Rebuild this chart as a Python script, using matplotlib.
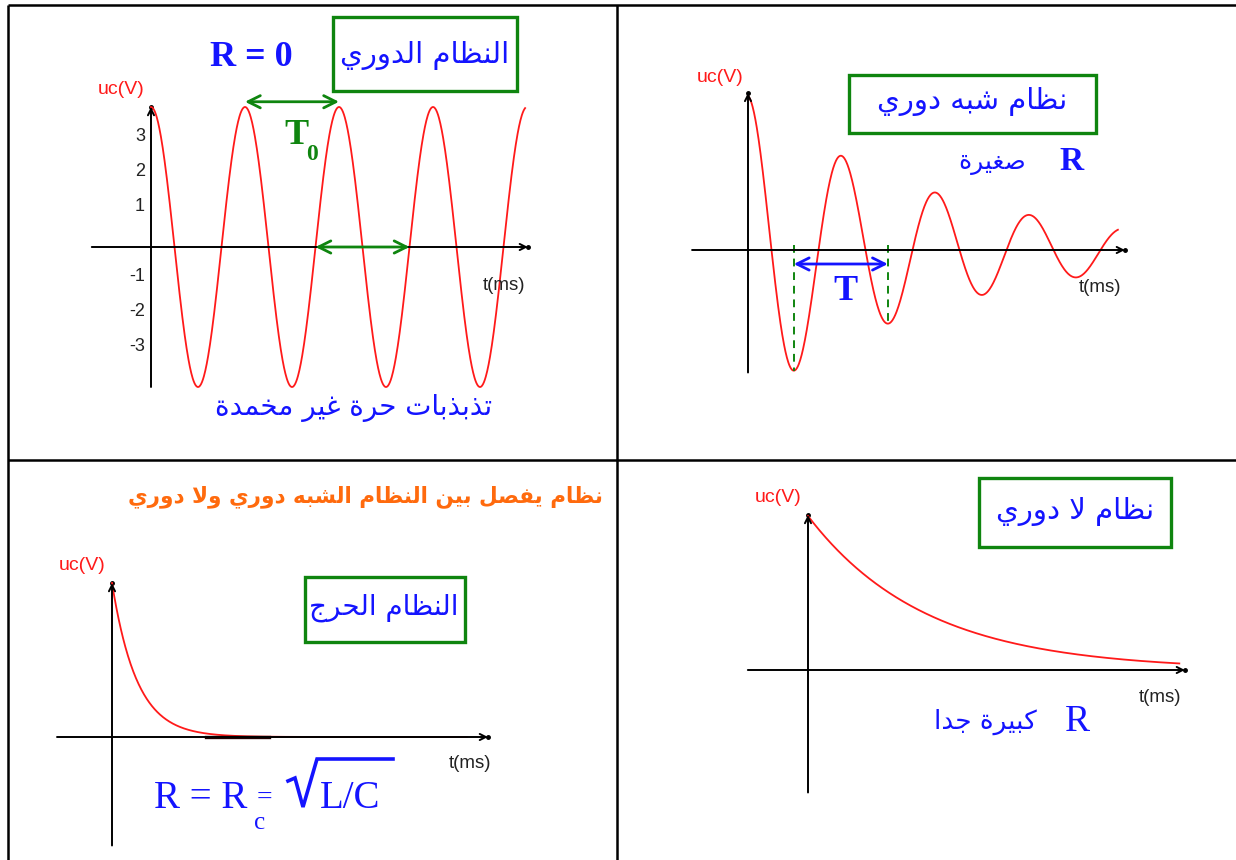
import matplotlib
matplotlib.use("Agg")

import  matplotlib.pyplot   as  plt
import  numpy   as  np


##############################################################
###------------------------data----------------------------###
##############################################################

T_END           =   8.0             # ms, last instant drawn
PX_PER_MS       =   47.0
PX_PER_V        =   35.0

# regime periodique (R = 0)
U0_PER          =   4.0
T0_PER          =   2.0
TICK_VALUES     =   [3, 2, 1, -1, -2, -3]

# regime pseudo periodique (R petite)
U0_PSEUDO       =   4.4
T_PSEUDO        =   2.0
TAU_PSEUDO      =   4.05

# regime critique
U0_CRIT         =   4.4
TAU_CRIT        =   0.53
T_END_CRIT      =   7.55
CRIT_DARK       =   (2.0, 3.35)

# regime aperiodique (R tres grande)
U0_APER         =   4.4
TAU_APER        =   2.5
T_END_APER      =   7.9

TITLES = {
    "per":      "النظام الدوري",
    "per_sub":  "تذبذبات حرة غير مخمدة",
    "pseudo":   "نظام شبه دوري",
    "pseudo_r": "صغيرة",
    "crit":     "النظام الحرج",
    "crit_top": "نظام يفصل بين النظام الشبه دوري ولا دوري",
    "aper":     "نظام لا دوري",
    "aper_r":   "كبيرة جدا",
}

W, H    =   1236, 860
RED     =   "#ff1a1a"
BLUE    =   "#1414ff"
GREEN   =   "#0f850f"
ORANGE  =   "#ff6a0d"
AR_FONT =   ["DejaVu Sans"]


##############################################################
###------------------arabic_shaping-----------------------###
##############################################################

# isolated, final, initial, medial
FORMS = {
    "ا": ("\ufe8d", "\ufe8e"),
    "ب": ("\ufe8f", "\ufe90", "\ufe91", "\ufe92"),
    "ة": ("\ufe93", "\ufe94"),
    "ت": ("\ufe95", "\ufe96", "\ufe97", "\ufe98"),
    "ج": ("\ufe9d", "\ufe9e", "\ufe9f", "\ufea0"),
    "ح": ("\ufea1", "\ufea2", "\ufea3", "\ufea4"),
    "خ": ("\ufea5", "\ufea6", "\ufea7", "\ufea8"),
    "د": ("\ufea9", "\ufeaa"),
    "ذ": ("\ufeab", "\ufeac"),
    "ر": ("\ufead", "\ufeae"),
    "ش": ("\ufeb5", "\ufeb6", "\ufeb7", "\ufeb8"),
    "ص": ("\ufeb9", "\ufeba", "\ufebb", "\ufebc"),
    "ظ": ("\ufec5", "\ufec6", "\ufec7", "\ufec8"),
    "غ": ("\ufecd", "\ufece", "\ufecf", "\ufed0"),
    "ف": ("\ufed1", "\ufed2", "\ufed3", "\ufed4"),
    "ك": ("\ufed9", "\ufeda", "\ufedb", "\ufedc"),
    "ل": ("\ufedd", "\ufede", "\ufedf", "\ufee0"),
    "م": ("\ufee1", "\ufee2", "\ufee3", "\ufee4"),
    "ن": ("\ufee5", "\ufee6", "\ufee7", "\ufee8"),
    "ه": ("\ufee9", "\ufeea", "\ufeeb", "\ufeec"),
    "و": ("\ufeed", "\ufeee"),
    "ي": ("\ufef1", "\ufef2", "\ufef3", "\ufef4"),
}


def shape(text):
    chars       =   list(text)
    out         =   []
    prev_joins  =   False
    i           =   0
    while i < len(chars):
        c = chars[i]
        if c not in FORMS:
            out.append(c)
            prev_joins = False
            i += 1
            continue
        if c == "ل" and i + 1 < len(chars) and chars[i + 1] == "ا":
            out.append("\ufefc" if prev_joins else "\ufefb")
            prev_joins = False
            i += 2
            continue
        f           =   FORMS[c]
        nxt         =   chars[i + 1] if i + 1 < len(chars) else ""
        link_next   =   len(f) == 4 and nxt in FORMS
        if prev_joins and link_next:
            g = f[3]
        elif prev_joins:
            g = f[1]
        elif link_next:
            g = f[2]
        else:
            g = f[0]
        out.append(g)
        prev_joins = link_next
        i += 1
    return "".join(reversed(out))


##############################################################
###-------------------helpers------------------------------###
##############################################################

fig = plt.figure(figsize=(W / 100, H / 100), dpi=100, facecolor="white")


def panel(cell, origin):
    left, top, right, bottom = cell
    ax = fig.add_axes([left / W, 1 - bottom / H, (right - left) / W, (bottom - top) / H])
    ax.set_xlim((left - origin[0]) / PX_PER_MS, (right - origin[0]) / PX_PER_MS)
    ax.set_ylim((origin[1] - bottom) / PX_PER_V, (origin[1] - top) / PX_PER_V)
    ax.axis("off")
    return ax


def draw_axes(ax, t_min, t_max, u_min, u_max):
    arrow = dict(arrowstyle="->", color="black", lw=1.4, shrinkA=0, shrinkB=0, mutation_scale=11)
    ax.annotate("", xy=(t_max, 0), xytext=(t_min, 0), arrowprops=arrow)
    ax.annotate("", xy=(0, u_max), xytext=(0, u_min), arrowprops=arrow)
    ax.plot([t_max, 0], [0, u_max], "k.", ms=5)


def period_arrow(ax, t_a, t_b, u, color):
    ax.annotate("", xy=(t_b, u), xytext=(t_a, u),
                arrowprops=dict(arrowstyle="<->", color=color, lw=2, shrinkA=0, shrinkB=0,
                                mutation_scale=22))


##############################################################
###-------------------panels-------------------------------###
##############################################################

###----------------------periodique------------------------###
ax1 = panel((8, 5, 617, 460), (151, 247))
draw_axes(ax1, -1.26, 8.02, -4.0, 4.0)
t = np.linspace(0, T_END - 0.04, 800)
ax1.plot(t, U0_PER * np.cos(2 * np.pi * t / T0_PER), color=RED, lw=1.3)
period_arrow(ax1, T0_PER, 2 * T0_PER, U0_PER + 0.15, GREEN)
period_arrow(ax1, 1.75 * T0_PER, 2.75 * T0_PER, 0.0, GREEN)
for v in TICK_VALUES:
    ax1.text(-0.13, v + 0.15, str(v), ha="right", va="center", fontsize=13,
             family="Liberation Sans", color="#222222")

###------------------pseudo_periodique---------------------###
ax2 = panel((617, 5, 1236, 460), (748, 250))
draw_axes(ax2, -1.19, 8.02, -3.5, 4.49)
t = np.linspace(0, T_END - 0.13, 800)
w = 2 * np.pi / T_PSEUDO
ax2.plot(t, U0_PSEUDO * np.exp(-t / TAU_PSEUDO) * np.cos(w * t), color=RED, lw=1.3)
t_min1 = (np.pi - np.arctan(1 / (w * TAU_PSEUDO))) / w
for tm in (t_min1, t_min1 + T_PSEUDO):
    um = U0_PSEUDO * np.exp(-tm / TAU_PSEUDO) * np.cos(w * tm)
    ax2.plot([tm, tm], [0.15, um], color=GREEN, lw=1.4, ls=(0, (4, 3)))
period_arrow(ax2, t_min1, t_min1 + T_PSEUDO, -0.4, BLUE)

###----------------------critique--------------------------###
ax3 = panel((8, 460, 617, 860), (112, 737))
draw_axes(ax3, -1.17, 8.0, -3.1, 4.4)
t = np.linspace(0, T_END_CRIT, 800)
ax3.plot(t, U0_CRIT * np.exp(-t / TAU_CRIT), color=RED, lw=1.3)
ax3.plot(CRIT_DARK, [0, 0], color="#200000", lw=2.4)

###---------------------aperiodique------------------------###
ax4 = panel((617, 460, 1236, 860), (808, 670))
draw_axes(ax4, -1.28, 8.02, -3.5, 4.43)
t = np.linspace(0, T_END_APER, 800)
ax4.plot(t, U0_APER * np.exp(-t / TAU_APER), color=RED, lw=1.3)


##############################################################
###-------------------labels_and_table---------------------###
##############################################################

ov = fig.add_axes([0, 0, 1, 1], zorder=10)
ov.set_xlim(0, W)
ov.set_ylim(H, 0)
ov.axis("off")
ov.patch.set_alpha(0)

###----------------------table_lines-----------------------###
for xs, ys in [((7.5, 7.5), (5, H)), ((7.5, W), (5, 5)),
               ((617, 617), (5, H)), ((7.5, W), (460, 460))]:
    ov.plot(xs, ys, color="black", lw=1.8, solid_capstyle="butt")

###------------------------boxes---------------------------###
for (x0, y0, x1, y1) in [(333, 17, 517, 91), (849, 75, 1096, 133),
                         (305, 577, 465, 642), (979, 478, 1171, 547)]:
    ov.add_patch(plt.Rectangle((x0, y0), x1 - x0, y1 - y0, fill=False, ec=GREEN, lw=2.4))

ov.text(425, 56, shape(TITLES["per"]), ha="center", va="center", fontsize=21, color=BLUE, family=AR_FONT)
ov.text(972, 102, shape(TITLES["pseudo"]), ha="center", va="center", fontsize=21, color=BLUE, family=AR_FONT)
ov.text(384, 608, shape(TITLES["crit"]), ha="center", va="center", fontsize=20, color=BLUE, family=AR_FONT)
ov.text(1075, 512, shape(TITLES["aper"]), ha="center", va="center", fontsize=21, color=BLUE, family=AR_FONT)

ov.text(354, 408, shape(TITLES["per_sub"]), ha="center", va="center", fontsize=20, color=BLUE, family=AR_FONT)
ov.text(992, 163, shape(TITLES["pseudo_r"]), ha="center", va="center", fontsize=18, color=BLUE, family=AR_FONT)
ov.text(985, 722, shape(TITLES["aper_r"]), ha="center", va="center", fontsize=19, color=BLUE, family=AR_FONT)
ov.text(603, 497, shape(TITLES["crit_top"]), ha="right", va="center", fontsize=15.5, color=ORANGE,
        family=AR_FONT, fontweight="bold")

###-------------------------R_T----------------------------###
serif = "Liberation Serif"
ov.text(251, 58, "R = 0", ha="center", va="center", fontsize=26, color=BLUE, family=serif, fontweight="bold")
ov.text(296, 136, "T", ha="center", va="center", fontsize=26, color=GREEN, family=serif, fontweight="bold")
ov.text(312, 154, "0", ha="center", va="center", fontsize=17, color=GREEN, family=serif, fontweight="bold")
ov.text(1072, 162, "R", ha="center", va="center", fontsize=24, color=BLUE, family=serif, fontweight="bold")
ov.text(845, 291, "T", ha="center", va="center", fontsize=26, color=BLUE, family=serif, fontweight="bold")
ov.text(1077, 722, "R", ha="center", va="center", fontsize=27, color=BLUE, family=serif)

###-----------------------R_critique-----------------------###
ov.text(154, 808, "R = R", ha="left", va="baseline", fontsize=28, color=BLUE, family=serif)
ov.text(260, 829, "c", ha="center", va="baseline", fontsize=18, color=BLUE, family=serif)
ov.text(264, 805, "=", ha="center", va="baseline", fontsize=20, color=BLUE, family=serif)
ov.plot([288, 295, 303, 317, 393], [781, 778, 807, 759, 759], color=BLUE, lw=2.6,
        solid_joinstyle="miter")
ov.text(320, 808, "L/C", ha="left", va="baseline", fontsize=28, color=BLUE, family=serif)

###----------------------axis_names------------------------###
sans = "Liberation Sans"
for x, y in [(121, 90), (720, 77), (82, 565), (778, 498)]:
    ov.text(x, y, "uc(V)", ha="center", va="center", fontsize=14, color=RED, family=sans)
for x, y in [(504, 285), (1100, 288), (470, 763), (1160, 697)]:
    ov.text(x, y, "t(ms)", ha="center", va="center", fontsize=13.5, color="#222222", family=sans)

plt.savefig("out.png", dpi=100, facecolor="white")
